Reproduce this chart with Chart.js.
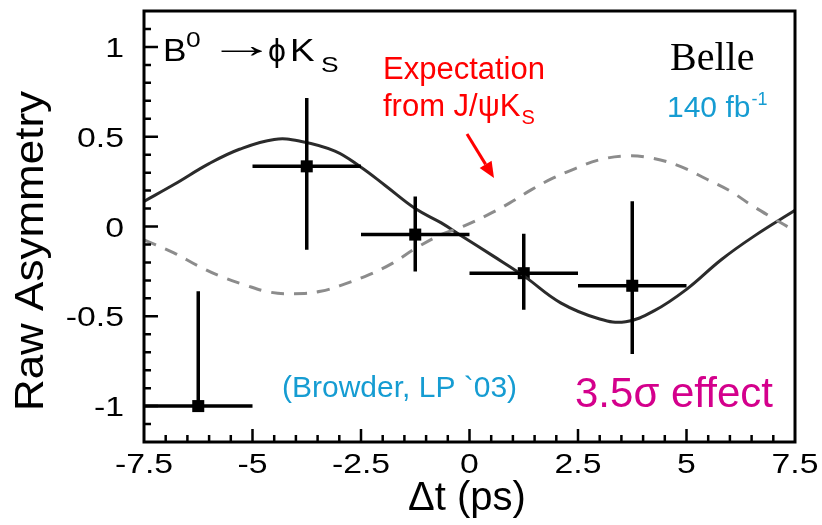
<!DOCTYPE html>
<html>
<head>
<meta charset="utf-8">
<script src="https://cdn.jsdelivr.net/npm/chart.js@4.4.1/dist/chart.umd.min.js"></script>
<style>
    html, body { margin: 0; padding: 0; background: #fff; }
    #wrap { width: 822px; height: 525px; }
</style>
</head>
<body>
<div id="wrap"><canvas id="asymChart" width="822" height="525"></canvas></div>
<script>
// =========================
// DATA
// =========================

// measured bins (delta t in ps)
const binCentres = [-6.25, -3.75, -1.25, 1.25, 3.75];
const binHalfWidth = [1.25, 1.25, 1.25, 1.25, 1.25];
const asymValues = [-1.0, 0.335, -0.045, -0.26, -0.33];
const errTop = [-0.36, 0.715, 0.167, -0.04, 0.14];
const errBottom = [-1.0, -0.13, -0.25, -0.463, -0.71];

// fit curve (solid)
const fitT = [-7.5, -6.8, -6.0, -5.3, -4.5, -3.9, -3.1, -2.5, -1.95, -1.25, -0.65, -0.2,
    0.55, 1.25, 2.1, 3.0, 3.6, 4.25, 5.0, 5.8, 6.55, 7.5];
const fitA = [0.14, 0.235, 0.35, 0.43, 0.485, 0.475, 0.42, 0.33, 0.23, 0.10, 0.02, -0.05,
    -0.165, -0.275, -0.425, -0.515, -0.53, -0.47, -0.35, -0.185, -0.055, 0.09];

// expectation from J/psi Ks (dashed)
const expT = [-7.5, -6.8, -6.27, -5.77, -5.19, -4.61, -4.04, -3.43, -2.85, -2.31, -1.77, -1.23,
    -0.66, -0.12, 0.42, 0.92, 1.42, 1.92, 2.45, 2.99, 3.61, 4.22, 4.87, 5.47, 5.99, 6.49, 6.99, 7.5];
const expA = [-0.074, -0.148, -0.217, -0.274, -0.324, -0.365, -0.374, -0.361, -0.318, -0.268, -0.204, -0.12,
    -0.046, 0.004, 0.065, 0.13, 0.204, 0.269, 0.324, 0.371, 0.393, 0.38, 0.333, 0.263, 0.2, 0.12, 0.047, -0.025];

// tick labels
const xTickValues = [-7.5, -5, -2.5, 0, 2.5, 5, 7.5];
const xTickLabels = ["-7.5", "-5", "-2.5", "0", "2.5", "5", "7.5"];
const yTickValues = [-1, -0.5, 0, 0.5, 1];
const yTickLabels = ["-1", "-0.5", "0", "0.5", "1"];

const SANS = "'Liberation Sans', Arial, sans-serif";
const SERIF = "'Liberation Serif', 'Times New Roman', serif";
const BLUE = "#159cd2";

// =========================
// HELPERS
// =========================

function txt(ctx, text, x, y, size, color, align, sx, family) {
    ctx.save();
    ctx.translate(x, y);
    ctx.scale(sx || 1, 1);
    ctx.font = size + "px " + (family || SANS);
    ctx.fillStyle = color;
    ctx.textAlign = align || "left";
    ctx.textBaseline = "alphabetic";
    ctx.fillText(text, 0, 0);
    ctx.restore();
}

function textWidth(ctx, text, size, family) {
    ctx.save();
    ctx.font = size + "px " + (family || SANS);
    const w = ctx.measureText(text).width;
    ctx.restore();
    return w;
}

// error bars drawn through the chart scales
const errorBars = {
    id: "errorBars",
    afterDatasetsDraw(chart) {
        const ctx = chart.ctx;
        const xs = chart.scales.x;
        const ys = chart.scales.y;
        ctx.save();
        ctx.strokeStyle = "#000";
        ctx.lineWidth = 3.5;
        binCentres.forEach((c, i) => {
            const yv = ys.getPixelForValue(asymValues[i]);
            const xv = xs.getPixelForValue(c);
            ctx.beginPath();
            ctx.moveTo(xs.getPixelForValue(c - binHalfWidth[i]), yv);
            ctx.lineTo(xs.getPixelForValue(c + binHalfWidth[i]), yv);
            ctx.moveTo(xv, ys.getPixelForValue(errTop[i]));
            ctx.lineTo(xv, ys.getPixelForValue(errBottom[i]));
            ctx.stroke();
        });
        ctx.restore();
    },
};

// frame, inward ticks, labels and notes
const frameAndText = {
    id: "frameAndText",
    afterDraw(chart) {
        const ctx = chart.ctx;
        const a = chart.chartArea;
        const xs = chart.scales.x;
        const ys = chart.scales.y;

        ctx.save();
        ctx.strokeStyle = "#000";
        ctx.lineWidth = 3;
        ctx.strokeRect(a.left, a.top, a.right - a.left, a.bottom - a.top);

        ctx.lineWidth = 2.5;
        ctx.beginPath();
        for (let i = -11; i <= 11; i++) {
            const py = ys.getPixelForValue(i / 10);
            const len = i % 5 === 0 ? 14 : 7;
            ctx.moveTo(a.left, py);
            ctx.lineTo(a.left + len, py);
        }
        for (let i = -14; i <= 14; i++) {
            const px = xs.getPixelForValue(i / 2);
            const len = i % 5 === 0 ? 13 : 7;
            ctx.moveTo(px, a.bottom);
            ctx.lineTo(px, a.bottom - len);
        }
        ctx.stroke();
        ctx.restore();

        // tick labels
        yTickValues.forEach((v, i) => {
            txt(ctx, yTickLabels[i], 124, ys.getPixelForValue(v) + 10, 27, "#000", "right", 1.25);
        });
        xTickValues.forEach((v, i) => {
            txt(ctx, xTickLabels[i], xs.getPixelForValue(v), 473, 27, "#000", "center", 1.25);
        });

        // axis titles
        txt(ctx, "\u0394t (ps)", 467, 510, 40, "#000", "center", 1);
        ctx.save();
        ctx.translate(43, 251);
        ctx.rotate(-Math.PI / 2);
        txt(ctx, "Raw Asymmetry", 0, 0, 40, "#000", "center", 1.1);
        ctx.restore();

        // decay label
        txt(ctx, "B", 163, 61, 32, "#000", "left", 1.1);
        txt(ctx, "0", 186, 47, 22, "#000", "left", 1.2);
        txt(ctx, "\u2192", 208, 57, 36, "#000", "left", 1.9);
        txt(ctx, "\u03d5", 268, 61, 32, "#000", "left", 1.0);
        txt(ctx, "K", 290, 61, 32, "#000", "left", 1.15);
        txt(ctx, "S", 321, 72, 22, "#000", "left", 1.2);

        // expectation note with arrow
        txt(ctx, "Expectation", 383, 79, 31, "#ff0000", "left", 1);
        txt(ctx, "from J/\u03c8K", 383, 116, 31, "#ff0000", "left", 1);
        const w2 = textWidth(ctx, "from J/\u03c8K", 31);
        txt(ctx, "S", 383 + w2 + 1, 124, 20, "#ff0000", "left", 1);

        ctx.save();
        ctx.strokeStyle = "#ff0000";
        ctx.fillStyle = "#ff0000";
        ctx.lineWidth = 3;
        const x0 = 467, y0 = 134, x1 = 494, y1 = 178;
        const ang = Math.atan2(y1 - y0, x1 - x0);
        const hl = 16, hw = 7;
        const bx = x1 - hl * Math.cos(ang), by = y1 - hl * Math.sin(ang);
        ctx.beginPath();
        ctx.moveTo(x0, y0);
        ctx.lineTo(bx, by);
        ctx.stroke();
        ctx.beginPath();
        ctx.moveTo(x1, y1);
        ctx.lineTo(bx + hw * Math.sin(ang), by - hw * Math.cos(ang));
        ctx.lineTo(bx - hw * Math.sin(ang), by + hw * Math.cos(ang));
        ctx.closePath();
        ctx.fill();
        ctx.restore();

        // experiment
        txt(ctx, "Belle", 670, 70, 40, "#000", "left", 1, SERIF);
        txt(ctx, "140 fb", 667, 117, 30, BLUE, "left", 1);
        const w3 = textWidth(ctx, "140 fb", 30);
        txt(ctx, "-1", 667 + w3 + 1, 105, 18, BLUE, "left", 1);

        txt(ctx, "(Browder, LP `03)", 282, 397, 30, BLUE, "left", 1);
        txt(ctx, "3.5\u03c3 effect", 575, 407, 42, "#d4008c", "left", 1);
    },
};

// =========================
// CHART
// =========================

const ctx = document.getElementById("asymChart").getContext("2d");

new Chart(ctx, {
    type: "scatter",
    data: {
        datasets: [
            {
                label: "expectation",
                data: expT.map((t, i) => ({ x: t, y: expA[i] })),
                showLine: true,
                borderColor: "#8c8c8c",
                borderWidth: 3,
                borderDash: [13, 10],
                pointRadius: 0,
                tension: 0.4,
            },
            {
                label: "fit",
                data: fitT.map((t, i) => ({ x: t, y: fitA[i] })),
                showLine: true,
                borderColor: "#2b2b2b",
                borderWidth: 3,
                pointRadius: 0,
                tension: 0.4,
            },
            {
                label: "data",
                data: binCentres.map((c, i) => ({ x: c, y: asymValues[i] })),
                pointStyle: "rect",
                pointRadius: 8.5,
                backgroundColor: "#000",
                borderWidth: 0,
            },
        ],
    },
    options: {
        responsive: false,
        animation: false,
        devicePixelRatio: 1,
        layout: { padding: { left: 144, top: 11, right: 27, bottom: 83 } },
        scales: {
            x: { type: "linear", min: -7.5, max: 7.5, display: false },
            y: { type: "linear", min: -1.2, max: 1.2, display: false },
        },
        plugins: {
            legend: { display: false },
            tooltip: { enabled: false },
        },
    },
    plugins: [errorBars, frameAndText],
});
</script>
</body>
</html>
